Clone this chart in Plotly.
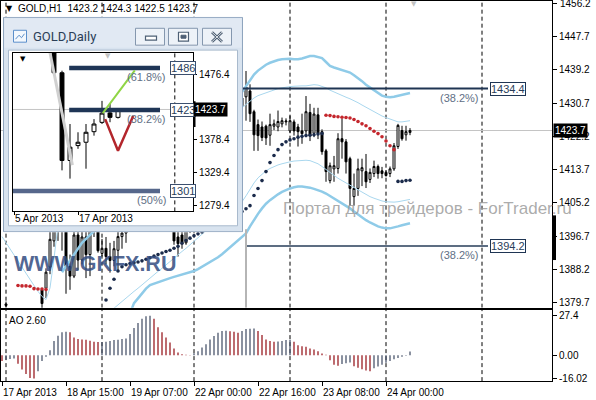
import plotly.graph_objects as go

W, H = 596, 400
def fx(px): return px / W
def fy(py): return 1 - py / H

N = None
# ---------------- GOLD,H1 main chart (bar 0 = 17 Apr 2013 23:00) ----------------
bars = list(range(103))
h1_open = [N, 1379.0, N, N, N, N, N, N, N, N,
           1383.0, 1383.4, 1388.8, 1395.5, 1402.5, 1407.0, 1399.5, 1389.0, 1386.5, 1397.0,
           1390.6, 1396.5, 1392.0, 1398.5, 1402.0, 1392.3, 1393.6, 1391.5, 1390.5, 1393.1,
           1396.6, 1397.5, 1399.5, 1404.0, 1409.0, 1414.0, 1416.5, 1413.0, 1416.0, 1411.0,
           1406.0, 1402.0, 1403.5, 1399.0, 1396.5, 1397.0, 1395.0, 1398.5, 1399.0, 1402.0,
           1406.0, 1410.0, 1414.0, 1418.0, 1421.0, 1424.0, 1422.0, 1426.0, 1424.0, 1428.0,
           1430.0, 1432.3, 1433.8, 1428.5, 1425.2, 1424.6, 1424.8, 1422.5, 1424.8, 1424.6,
           1425.4, 1425.9, 1423.6, 1425.9, 1424.6, 1423.6, 1423.6, 1428.3, 1423.0, 1427.7,
           1423.4, 1418.5, 1410.9, 1413.9, 1414.0, 1421.6, 1420.8, 1416.5, 1406.8, 1408.9,
           1413.4, 1413.2, 1411.2, 1412.7, 1414.5, 1413.4, 1413.0, 1412.7, 1413.9, 1419.6,
           1423.7, 1422.6, 1423.2]
h1_high = [N, 1380.0, N, N, N, N, N, N, N, N,
           1383.5, 1388.5, 1398.0, 1405.0, 1409.0, 1408.5, 1402.0, 1392.0, 1399.5, 1400.0,
           1401.0, 1402.0, 1400.0, 1404.0, 1403.0, 1396.0, 1396.5, 1395.0, 1395.5, 1398.0,
           1399.0, 1401.0, 1405.5, 1411.0, 1416.0, 1418.0, 1418.5, 1417.5, 1417.0, 1412.5,
           1407.0, 1405.0, 1404.5, 1401.0, 1398.0, 1398.5, 1399.5, 1400.0, 1403.0, 1407.0,
           1411.5, 1415.0, 1419.5, 1422.5, 1425.5, 1425.0, 1427.5, 1427.0, 1429.5, 1433.0,
           1433.0, 1438.9, 1435.5, 1429.0, 1426.5, 1426.0, 1425.2, 1428.0, 1426.5, 1428.8,
           1427.0, 1426.8, 1427.5, 1426.5, 1425.4, 1428.0, 1432.5, 1430.5, 1429.5, 1429.5,
           1424.0, 1419.0, 1415.5, 1417.2, 1423.0, 1426.7, 1421.5, 1417.0, 1412.7, 1416.5,
           1416.5, 1417.7, 1414.0, 1416.0, 1415.0, 1414.4, 1413.6, 1414.5, 1420.5, 1425.4,
           1424.9, 1424.9, 1424.3]
h1_low = [N, 1378.6, N, N, N, N, N, N, N, N,
          1378.3, 1380.9, 1387.0, 1394.0, 1395.5, 1393.0, 1382.0, 1383.0, 1386.0, 1388.0,
          1389.5, 1386.0, 1386.5, 1396.5, 1392.5, 1391.5, 1389.5, 1387.4, 1389.0, 1387.8,
          1393.5, 1395.0, 1398.5, 1403.0, 1408.0, 1412.0, 1411.0, 1410.5, 1409.0, 1404.5,
          1400.0, 1399.5, 1398.0, 1394.5, 1391.5, 1393.5, 1394.5, 1397.5, 1397.5, 1401.0,
          1405.0, 1409.0, 1413.0, 1416.5, 1420.0, 1420.5, 1421.0, 1422.5, 1423.0, 1427.0,
          1426.5, 1426.2, 1425.9, 1418.5, 1418.5, 1421.0, 1420.0, 1419.8, 1423.8, 1423.5,
          1424.5, 1425.0, 1423.0, 1422.4, 1419.6, 1420.3, 1422.1, 1421.0, 1422.0, 1421.5,
          1417.5, 1410.6, 1410.2, 1410.6, 1412.7, 1416.5, 1412.7, 1404.5, 1404.5, 1407.0,
          1409.5, 1409.0, 1410.3, 1411.8, 1411.4, 1411.5, 1411.9, 1411.8, 1413.4, 1419.0,
          1421.1, 1421.1, 1422.5]
h1_close = [N, 1379.4, N, N, N, N, N, N, N, N,
            1379.5, 1387.5, 1395.9, 1403.0, 1407.0, 1399.0, 1389.0, 1386.5, 1397.0, 1390.6,
            1396.5, 1392.0, 1398.5, 1402.0, 1393.0, 1393.6, 1391.5, 1390.5, 1393.5, 1396.6,
            1397.5, 1399.5, 1404.0, 1409.0, 1414.0, 1416.5, 1413.0, 1416.0, 1411.0, 1406.0,
            1402.0, 1403.5, 1399.0, 1395.5, 1394.8, 1395.0, 1398.5, 1399.0, 1402.0, 1406.0,
            1410.0, 1414.0, 1418.0, 1421.0, 1424.0, 1422.0, 1426.0, 1424.0, 1428.0, 1431.0,
            1432.0, 1434.8, 1428.0, 1422.6, 1422.4, 1421.9, 1421.8, 1425.2, 1425.4, 1426.0,
            1426.2, 1426.1, 1426.2, 1423.6, 1423.4, 1422.9, 1428.5, 1422.4, 1427.9, 1423.0,
            1418.3, 1413.2, 1414.7, 1414.7, 1421.6, 1420.8, 1415.7, 1408.9, 1408.9, 1413.9,
            1414.2, 1410.6, 1413.0, 1414.5, 1412.7, 1412.7, 1412.2, 1413.9, 1419.8, 1425.0,
            1421.6, 1423.4, 1423.7]

band_thick_upper = [N] * 60 + [
    1433.5, 1435.0, 1436.6, 1438.0, 1439.0, 1439.8, 1440.5, 1441.0, 1441.4, 1441.7,
    1441.9, 1442.0, 1442.0, 1441.9, 1441.9, 1442.1, 1442.4, 1442.7, 1442.7, 1442.5,
    1442.2, 1441.2, 1440.2, 1439.8, 1439.5, 1439.2, 1438.9, 1438.5, 1437.8, 1437.1,
    1436.3, 1435.4, 1434.7, 1434.0, 1433.3, 1432.6, 1432.3, 1432.2, 1432.3, 1432.6,
    1432.9, 1433.1, 1433.3]
band_thin_upper = [
    1396.6, 1395.0, 1393.5, 1392.0, 1390.4, 1388.8, 1387.2, 1385.6, 1384.1, 1382.6,
    1381.3, 1380.5, 1383.5, 1391.0, 1399.5, 1406.0] + [N] * 44 + [
    1429.5, 1430.4, 1431.3, 1432.0, 1432.6, 1433.0, 1433.4, 1433.8, 1434.1, 1434.4,
    1434.6, 1434.8, 1434.9, 1435.0, 1435.1, 1435.1, 1435.1, 1435.2, 1435.4, 1435.3,
    1435.0, 1434.6, 1434.0, 1433.5, 1433.0, 1432.6, 1432.2, 1431.8, 1431.4, 1430.8,
    1430.2, 1429.6, 1429.0, 1428.4, 1427.9, 1427.4, 1427.0, 1426.6, 1426.2, 1425.9,
    1425.9, 1426.0, 1426.2]
band_thin_lower = [N] * 28 + [
    1378.3, 1379.2, 1380.1, 1380.9, 1381.7, 1382.6, 1383.4, 1384.3, 1385.1, 1386.0,
    1386.8, 1387.7, 1388.5, 1389.4, 1390.2, 1391.1, 1391.9, 1392.8, 1393.6, 1394.5,
    1395.4, 1396.3, 1397.2, 1398.1, 1399.0, 1399.9, 1400.8, 1401.7, 1402.6, 1403.5,
    1404.0, 1404.8,
    1405.5, 1407.0, 1408.8, 1410.3, 1411.6, 1412.6, 1413.4, 1414.0, 1414.5, 1414.9,
    1415.2, 1415.5, 1415.7, 1415.9, 1416.0, 1416.1, 1416.1, 1416.0, 1415.7, 1415.2,
    1414.5, 1413.7, 1412.9, 1412.2, 1411.5, 1410.9, 1410.3, 1409.7, 1409.1, 1408.5,
    1407.9, 1407.3, 1406.8, 1406.4, 1406.0, 1405.7, 1405.5, 1405.4, 1405.4, 1405.5,
    1405.7, 1405.9, 1406.1]
band_thick_lower = [N] * 15 + [
    1387.5, 1389.0, 1390.5, 1392.0, 1393.5, 1395.0, 1396.0, 1397.0, 1398.0, 1398.5,
    1399.0] + [N] * 6 + [
    1377.0, 1379.6, 1380.8, 1382.0, 1383.3, 1384.2, 1384.6, 1385.0, 1385.4, 1385.7,
    1386.0, 1386.3, 1386.6, 1386.9, 1387.2, 1387.5, 1387.8, 1388.3, 1388.9, 1389.5,
    1390.0, 1390.6, 1391.3, 1392.1, 1393.0, 1393.9, 1394.9, 1395.8, 1396.6, 1397.4,
    1399.2, 1400.9, 1402.4, 1403.8, 1405.0, 1405.9, 1406.7, 1407.4, 1408.0, 1408.5,
    1408.9, 1409.2, 1409.4, 1409.4, 1409.3, 1409.1, 1408.8, 1408.5, 1408.1, 1407.6,
    1407.0, 1406.4, 1405.8, 1405.2, 1404.5, 1403.8, 1403.0, 1402.2, 1401.5, 1400.8,
    1400.2, 1399.6, 1399.2, 1398.9, 1398.7, 1398.7, 1398.9, 1399.2, 1399.5, 1399.8,
    1400.0]

sar_up = [N] * 26 + [
    1380.4, 1383.4, 1385.7, 1387.8, 1388.9, 1389.4, 1389.7, 1389.9, 1390.1, 1390.4,
    1390.8, 1391.2, 1391.6, 1392.0, 1392.4, 1392.8, 1393.1, 1393.6, 1394.1, 1394.9,
    1395.6, 1396.2, 1396.8, 1397.3, 1397.8, 1398.3, 1398.8, 1399.3, 1399.8, 1400.3,
    1400.8, 1401.3, 1401.9, 1402.4, 1403.0, 1403.7, 1404.5, 1407.1, 1408.9, 1410.9,
    1413.2, 1415.5, 1417.3, 1418.8, 1420.1, 1420.8, 1421.3, 1421.6, 1422.0, 1422.2,
    1422.4, 1422.5, 1422.6, 1422.8, 1422.9] + [N] * 18 + [1410.7, 1410.7, 1410.9, 1411.0]
sar_down = [N] * 4 + [1384.1, 1384.0, 1384.0, 1383.9, 1383.3, 1383.2, 1383.2, 1383.1] + [N] * 69 + [
    1427.6, 1427.5, 1427.3, 1427.2, 1427.1, 1427.0, 1426.9, 1426.5, 1426.0, 1425.4,
    1424.9, 1424.2, 1423.5, 1422.9, 1422.1, 1421.0, 1419.8, 1418.8] + [N] * 4

ao_vals = [-4.0, -3.0, -2.6, -2.2, -5.9, -9.9, -12.9, -15.7, -16.02, -11.0,
           -4.0, -1.0, 3.5, 10.0, 13.6, 16.0, 16.4, 16.0, 12.4, 11.3,
           11.0, 10.8, 10.1, 9.4, 9.2, 9.3, 9.4, 10.0, 10.6, 10.8,
           11.3, 11.7, 14.8, 19.0, 22.5, 25.4, 27.2, 27.4, 25.4, 19.5,
           16.0, 12.4, 8.9, 4.7, 1.9, 0.7, 0.4, 0.2, 1.5, 2.8,
           5.4, 7.7, 11.0, 13.4, 15.7, 16.9, 17.1, 16.8, 16.4, 15.7,
           16.9, 18.3, 18.5, 18.7, 16.9, 14.1, 11.0, 9.9, 9.4, 9.6,
           9.9, 10.6, 10.8, 9.4, 7.0, 6.3, 5.9, 4.7, 4.0, 2.8,
           1.2, 0.4, -3.5, -6.5, -7.3, -6.0, -5.5, -5.0, -7.5, -8.7,
           -9.6, -10.6, -11.0, -9.0, -7.8, -6.5, -5.2, -4.0, -2.8, -1.8,
           -1.0, -0.3, 2.6]

time_tick_idx = [0, 16, 32, 48, 64, 80, 96]
time_tick_text = ["17 Apr 2013", "18 Apr 15:00", "19 Apr 07:00", "22 Apr 00:00",
                  "22 Apr 16:00", "23 Apr 08:00", "24 Apr 00:00"]
day_separators = [1, 25, 48, 72, 96, 120]
price_ticks = [1456.2, 1447.7, 1439.2, 1430.7, 1422.2, 1413.7, 1405.2, 1396.7, 1388.2, 1379.7]
ao_ticks = [27.4, 0.0, -16.02]
ao_tick_text = ["27.4", "0.00", "-16.02"]
fib_main_levels = [1434.4, 1394.2]
fib_main_pct = ["(38.2%)", "(38.2%)"]
fib_main_from = [60, 61]
fib_main_to = 121.5

# ---------------- GOLD,Daily inset (bar 0 = 5 Apr 2013) ----------------
d_idx = [5, 6, 7, 8, 9, 10, 11, 12, 13]
d_open = [1563.9, 1478.9, 1347.0, 1369.4, 1374.4, 1390.3, 1404.3, 1418.5, 1411.8]
d_high = [1567.0, 1482.0, 1401.8, 1389.4, 1401.8, 1409.2, 1436.6, 1432.5, 1425.0]
d_low = [1476.5, 1332.1, 1319.7, 1364.5, 1334.6, 1384.3, 1401.8, 1404.5, 1410.0]
d_close = [1478.9, 1347.0, 1367.0, 1374.4, 1389.4, 1401.8, 1418.2, 1411.8, 1423.7]
inset_ticks = [1476.4, 1378.4, 1329.4, 1279.4]
inset_date_idx = [0, 8]
inset_date_text = ["5 Apr 2013", "17 Apr 2013"]
fib_d_levels = [1486, 1423, 1301]
fib_d_pct = ["(61.8%)", "(38.2%)", "(50%)"]
fib_d_from = [6.9, 6.9, -0.2]
fib_d_to = 18.25
zz_green_x = [11.1, 15.1]
zz_green_y = [1418.2, 1482.4]
zz_red_x = [11.4, 13.0, 14.9]
zz_red_y = [1409.2, 1361.5, 1413.7]
trend_gray_x = [4.5, 7.3]
trend_gray_y = [1509.0, 1340.0]
inset_separator = 20.1

MAIN_Y = [1378.44, 1456.78]
AO_Y = [-17.9, 31.7]
X_RANGE = [-0.25, 137.5]
IN_X = [-0.125, 22.375]
IN_Y = [1270.4, 1509.2]
FONT = "Liberation Sans, Arial, sans-serif"

fig = go.Figure()
candle_style = dict(
    increasing=dict(line=dict(color="black", width=1), fillcolor="white"),
    decreasing=dict(line=dict(color="black", width=1), fillcolor="black"),
    whiskerwidth=0, hoverinfo="skip", showlegend=False)

fig.add_trace(go.Candlestick(x=bars, open=h1_open, high=h1_high, low=h1_low, close=h1_close,
                             xaxis="x", yaxis="y", **candle_style))
for band, w, c in [(band_thick_upper, 2.5, "#8fcbe8"), (band_thick_lower, 2.5, "#8fcbe8"),
                   (band_thin_upper, 1, "#a9d7ee"), (band_thin_lower, 1, "#a9d7ee")]:
    fig.add_trace(go.Scatter(x=bars, y=band, mode="lines", line=dict(color=c, width=w),
                             connectgaps=False, xaxis="x", yaxis="y", showlegend=False, hoverinfo="skip"))
fib_colors = ["#1f3553", "#5d6d82"]
for lvl, x0, col in zip(fib_main_levels, fib_main_from, fib_colors):
    fig.add_trace(go.Scatter(x=[x0, fib_main_to], y=[lvl, lvl], mode="lines",
                             line=dict(color=col, width=2), xaxis="x", yaxis="y",
                             showlegend=False, hoverinfo="skip"))
fig.add_trace(go.Scatter(x=[fib_main_from[1], fib_main_from[1]], y=[MAIN_Y[0], 1398.5], mode="lines",
                         line=dict(color="#b5b5b5", width=2), xaxis="x", yaxis="y",
                         showlegend=False, hoverinfo="skip"))
fig.add_trace(go.Scatter(x=bars, y=sar_up, mode="markers", marker=dict(size=3.6, color="#1b2b4b"),
                         xaxis="x", yaxis="y", showlegend=False, hoverinfo="skip"))
fig.add_trace(go.Scatter(x=bars, y=sar_down, mode="markers", marker=dict(size=3.6, color="#c4272d"),
                         xaxis="x", yaxis="y", showlegend=False, hoverinfo="skip"))

ao_colors = []
for k, v in enumerate(ao_vals):
    ao_colors.append("#98181f" if k == 0 or v < ao_vals[k - 1] else "#48536a")
fig.add_trace(go.Bar(x=bars, y=ao_vals, width=0.32, marker=dict(color=ao_colors, line=dict(width=0)),
                     xaxis="x2", yaxis="y2", showlegend=False, hoverinfo="skip"))

# window frame subplot (x3/y3) needs one invisible trace
fig.add_trace(go.Scatter(x=[3], y=[17], mode="markers", marker=dict(size=1, color="rgba(0,0,0,0)"),
                         xaxis="x3", yaxis="y3", showlegend=False, hoverinfo="skip"))

# inset daily chart
fig.add_trace(go.Scatter(x=trend_gray_x, y=trend_gray_y, mode="lines", line=dict(color="#d0d0d0", width=3),
                         xaxis="x4", yaxis="y4", showlegend=False, hoverinfo="skip"))
fig.add_trace(go.Candlestick(x=d_idx, open=d_open, high=d_high, low=d_low, close=d_close,
                             xaxis="x4", yaxis="y4", **candle_style))
for lvl, x0, col in zip(fib_d_levels, fib_d_from, ["#1f3556", "#1f3556", "#56678b"]):
    fig.add_trace(go.Scatter(x=[x0, fib_d_to], y=[lvl, lvl], mode="lines",
                             line=dict(color=col, width=4.5), xaxis="x4", yaxis="y4",
                             showlegend=False, hoverinfo="skip"))
fig.add_trace(go.Scatter(x=zz_green_x, y=zz_green_y, mode="lines", line=dict(color="#8fd545", width=2),
                         xaxis="x4", yaxis="y4", showlegend=False, hoverinfo="skip"))
fig.add_trace(go.Scatter(x=zz_red_x, y=zz_red_y, mode="lines", line=dict(color="#b3262c", width=2.5),
                         xaxis="x4", yaxis="y4", showlegend=False, hoverinfo="skip"))

shapes = []
dash = "4px,3px"
for s in day_separators:
    shapes.append(dict(type="line", xref="x", yref="y", x0=s, x1=s, y0=MAIN_Y[0], y1=MAIN_Y[1],
                       line=dict(color="black", width=1, dash=dash), layer="below"))
    shapes.append(dict(type="line", xref="x2", yref="y2", x0=s, x1=s, y0=AO_Y[0], y1=AO_Y[1],
                       line=dict(color="black", width=1, dash=dash), layer="below"))
last_close = h1_close[-1]
shapes.append(dict(type="line", xref="x", yref="y", x0=X_RANGE[0], x1=X_RANGE[1], y0=last_close, y1=last_close,
                   line=dict(color="#c4c4c4", width=1), layer="below"))
shapes.append(dict(type="line", xref="x4", yref="y4", x0=IN_X[0], x1=IN_X[1], y0=last_close, y1=last_close,
                   line=dict(color="#c4c4c4", width=1), layer="below"))
shapes.append(dict(type="line", xref="x4", yref="y4", x0=inset_separator, x1=inset_separator,
                   y0=IN_Y[0], y1=IN_Y[1], line=dict(color="black", width=1, dash=dash), layer="below"))

# window chrome in pixel coordinates (x3/y3)
def wrect(x0, y0, x1, y1, fill, line, lw=1):
    shapes.append(dict(type="rect", xref="x3", yref="y3", x0=x0, y0=y0, x1=x1, y1=y1,
                       fillcolor=fill, line=dict(color=line, width=lw), layer="below"))
def wline(x0, y0, x1, y1, col, lw):
    shapes.append(dict(type="line", xref="x3", yref="y3", x0=x0, y0=y0, x1=x1, y1=y1,
                       line=dict(color=col, width=lw), layer="below"))
wrect(3.5, 17.5, 242.5, 233.5, "#d8e3ef", "#8fa5be")
wrect(4.5, 18.5, 241.5, 48, "#e1e9f3", "rgba(0,0,0,0)", 0)
wrect(8.5, 50.5, 237.5, 227.5, "white", "#a9bacd")
wrect(13.5, 30.5, 26.5, 42.5, "#f3f8fd", "#5b8fcb")
wline(15.5, 39.5, 19, 35.5, "#5b8fcb", 1)
wline(19, 35.5, 21.5, 38, "#5b8fcb", 1)
wline(21.5, 38, 24.5, 34, "#5b8fcb", 1)
for bx0, bx1 in [(135, 165), (168, 198), (202, 232)]:
    wrect(bx0 + 0.5, 28.5, bx1 - 0.5, 45.5, "#edf2f8", "#8497ae")
wrect(145.5, 36.5, 156.5, 40.5, "white", "#4e6075", 1.2)
wrect(178.5, 32.5, 188.5, 41.5, "white", "#4e6075", 1.2)
wrect(181, 35.5, 186, 38.5, "#4e6075", "#4e6075", 1)
wline(212, 32.5, 222, 42, "#4e6075", 2.6)
wline(222, 32.5, 212, 42, "#4e6075", 2.6)
wline(212, 32.5, 222, 42, "white", 0.8)
wline(222, 32.5, 212, 42, "white", 0.8)

# black bars on price scales
shapes.append(dict(type="rect", xref="paper", yref="paper", x0=fx(553), x1=fx(556), y0=fy(262), y1=fy(217),
                   fillcolor="black", line=dict(width=0), layer="above"))
shapes.append(dict(type="rect", xref="paper", yref="paper", x0=fx(193), x1=fx(195.5), y0=fy(128), y1=fy(102),
                   fillcolor="black", line=dict(width=0), layer="above"))

ann = []
def txt(x, y, s, size=10, color="black", xanchor="left", yanchor="middle", xref="paper", yref="paper",
        family=FONT, **kw):
    ann.append(dict(x=x, y=y, xref=xref, yref=yref, text=s, showarrow=False, xanchor=xanchor,
                    yanchor=yanchor, font=dict(family=family, size=size, color=color), **kw))

header = "GOLD,H1  " + " ".join(f"{v:.1f}" for v in (h1_open[-1], h1_high[-1], h1_low[-1], h1_close[-1]))
txt(fx(4), fy(9), "▼", size=8, family="DejaVu Sans")
txt(fx(16), fy(9), header, size=10)
txt(fx(409), fy(4), "▼", size=7, color="#c2c2c2", family="DejaVu Sans")
# top price-scale label sits at the very edge of the page
txt(fx(558), price_ticks[0], f"{price_ticks[0]:.1f}", size=10, yref="y")

txt(fx(553), last_close, f"{last_close:.1f}", size=10, color="white", yref="y",
    bgcolor="black", borderpad=1)

for lvl, pct, col in zip(fib_main_levels, fib_main_pct, fib_colors):
    txt(122, lvl, f"{lvl:.1f}", size=11, color="#2a3e5a", xref="x", yref="y",
        bgcolor="white", bordercolor="#1f3553", borderwidth=1, borderpad=0)
    txt(119.8, lvl, pct, size=11, color="#5f6f85", xref="x", yref="y", xanchor="right",
        yanchor="top", yshift=-1)

ann.append(dict(x=fx(12), y=fy(266), xref="paper", yref="paper", text="WWW.GKFX.RU", showarrow=False,
                xanchor="left", yanchor="middle",
                font=dict(family="Liberation Sans, Arial", size=21.5,
                          color="rgba(50,76,128,0.85)", weight="bold")))
txt(fx(281), fy(210), "Портал для трейдеров - ForTrader.ru", size=17, color="rgba(150,150,150,0.8)")

txt(fx(7), fy(323), f"AO {ao_vals[-1]:.2f}", size=10)
for i, t in zip(time_tick_idx, time_tick_text):
    txt(i, fy(395), t, size=10, xref="x2", xshift=-1)

txt(fx(31), fy(37), "GOLD,Daily", size=13, color="#2b3e57", family="Roboto, Noto Sans, sans-serif")
txt(fx(18), fy(59), "▼", size=7, family="DejaVu Sans")
txt(fx(103), fy(56), "▼", size=7, color="#c2c2c2", family="DejaVu Sans")
for lvl, pct in zip(fib_d_levels, fib_d_pct):
    txt(19.45, lvl, str(lvl), size=11, color="#2a3e5a", xref="x4", yref="y4",
        bgcolor="white", bordercolor="#3b4f6e", borderwidth=1, borderpad=0)
    txt(19.3, lvl, pct, size=11, color="#5f6f85", xref="x4", yref="y4", xanchor="right",
        yanchor="top", yshift=-1)
txt(IN_X[1], last_close, f"{last_close:.1f}", size=10, color="white", xref="x4", yref="y4",
    bgcolor="black", borderpad=1)
for i, t in zip(inset_date_idx, inset_date_text):
    txt(i, fy(220), t, size=10, xref="x4", xshift=-1)

ax_common = dict(showgrid=False, zeroline=False, linecolor="black", linewidth=1,
                 tickfont=dict(family=FONT, size=10, color="black"), tickcolor="black")
fig.update_layout(
    width=W, height=H, margin=dict(l=0, r=0, t=0, b=0),
    paper_bgcolor="white", plot_bgcolor="white", hovermode=False, showlegend=False,
    font=dict(family=FONT, size=10, color="black"),
    xaxis=dict(domain=[fx(1), fx(552)], range=X_RANGE, anchor="y", showline=True, mirror=True,
               showticklabels=False, ticks="", rangeslider=dict(visible=False), **ax_common),
    yaxis=dict(domain=[fy(310), fy(1)], range=MAIN_Y, anchor="x", side="right", showline=True,
               mirror=True, tickvals=price_ticks, ticktext=[f"{v:.1f}" for v in price_ticks],
               ticks="outside", ticklen=4, **ax_common),
    xaxis2=dict(domain=[fx(1), fx(552)], range=X_RANGE, anchor="y2", showline=True, mirror=True,
                tickvals=time_tick_idx, showticklabels=False, ticks="outside", ticklen=4, **ax_common),
    yaxis2=dict(domain=[fy(384), fy(312)], range=AO_Y, anchor="x2", side="right", showline=True,
                mirror=True, tickvals=ao_ticks, ticktext=ao_tick_text, ticks="outside", ticklen=4,
                **ax_common),
    xaxis3=dict(domain=[fx(3), fx(243)], range=[3, 243], anchor="y3", showline=False,
                showticklabels=False, ticks="", showgrid=False, zeroline=False),
    yaxis3=dict(domain=[fy(234), fy(17)], range=[234, 17], anchor="x3", showline=False,
                showticklabels=False, ticks="", showgrid=False, zeroline=False),
    xaxis4=dict(domain=[fx(13), fx(193)], range=IN_X, anchor="y4", showline=True, mirror=True,
                tickvals=inset_date_idx, showticklabels=False, ticks="outside", ticklen=3,
                rangeslider=dict(visible=False), **ax_common),
    yaxis4=dict(domain=[fy(213), fy(53)], range=IN_Y, anchor="x4", side="right", showline=True,
                mirror=True, tickvals=inset_ticks, ticktext=[f"{v:.1f}" for v in inset_ticks],
                ticks="outside", ticklen=3, **ax_common),
    shapes=shapes, annotations=ann,
)
fig.write_html("out.html", config={"displayModeBar": False, "staticPlot": True},
               post_script="document.body.style.margin='0';document.body.style.overflow='hidden';")
